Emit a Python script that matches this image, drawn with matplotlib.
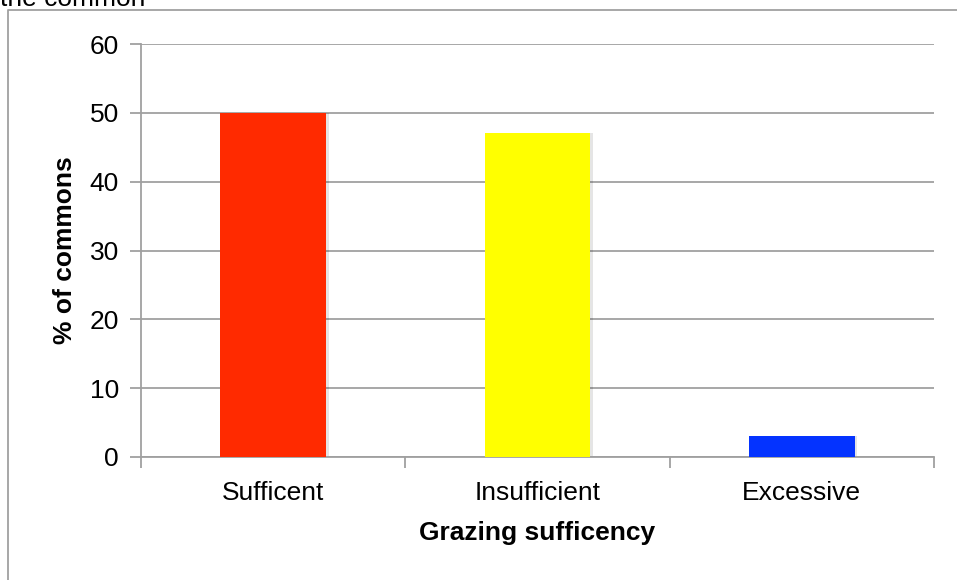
import numpy as np
import matplotlib.pyplot as plt
from matplotlib.lines import Line2D

plt.rcParams['font.family'] = ['Liberation Sans', 'DejaVu Sans']

categories = ["Sufficent", "Insufficient", "Excessive"]
values = [50, 47, 3]
colors = ["#FF2A00", "#FFFF00", "#0433FF"]

W, H = 957, 580
fig = plt.figure(figsize=(W / 100, H / 100), dpi=100)
ax = fig.add_axes([141 / W, 1 - 457 / H, (934 - 141) / W, (457 - 44) / H])

x = np.arange(len(categories))
# faint shadow under bars
ax.bar(x + 0.01, values, width=0.4, color="#000000", alpha=0.10, zorder=2)
ax.bar(x, values, width=0.4, color=colors, zorder=3)

ax.set_xlim(-0.5, 2.5)
ax.set_ylim(0, 60)
ax.set_yticks(range(0, 61, 10))
ax.set_xticks(x)
ax.set_xticklabels(categories, fontsize=19)
ax.set_xticks([-0.5, 0.5, 1.5, 2.5], minor=True)
ax.tick_params(axis="x", which="major", length=0, pad=17)
ax.tick_params(axis="x", which="minor", length=8, color="#A0A0A0", width=1.3)
ax.tick_params(axis="y", length=8, color="#A0A0A0", width=1.3, labelsize=19, pad=8)

ax.grid(axis="y", color="#A0A0A0", linewidth=1.3, zorder=1)
for s in ["top", "right"]:
    ax.spines[s].set_visible(False)
for s in ["left", "bottom"]:
    ax.spines[s].set_color("#A0A0A0")
    ax.spines[s].set_linewidth(1.3)

ax.set_xlabel("Grazing sufficency", fontsize=19, fontweight="bold", labelpad=12)
ax.set_ylabel("% of commons", fontsize=19, fontweight="bold", labelpad=9)

# outer chart frame (left and top edges)
fig.add_artist(Line2D([8 / W, 8 / W, 1], [0, 1 - 10 / H, 1 - 10 / H],
                      transform=fig.transFigure, color="#A0A0A0", linewidth=1.3))
# clipped title remnant at the top
fig.text(0, 1 - 6 / H, "the common", fontsize=19, va="baseline", ha="left")

fig.savefig("out.png", dpi=100)
